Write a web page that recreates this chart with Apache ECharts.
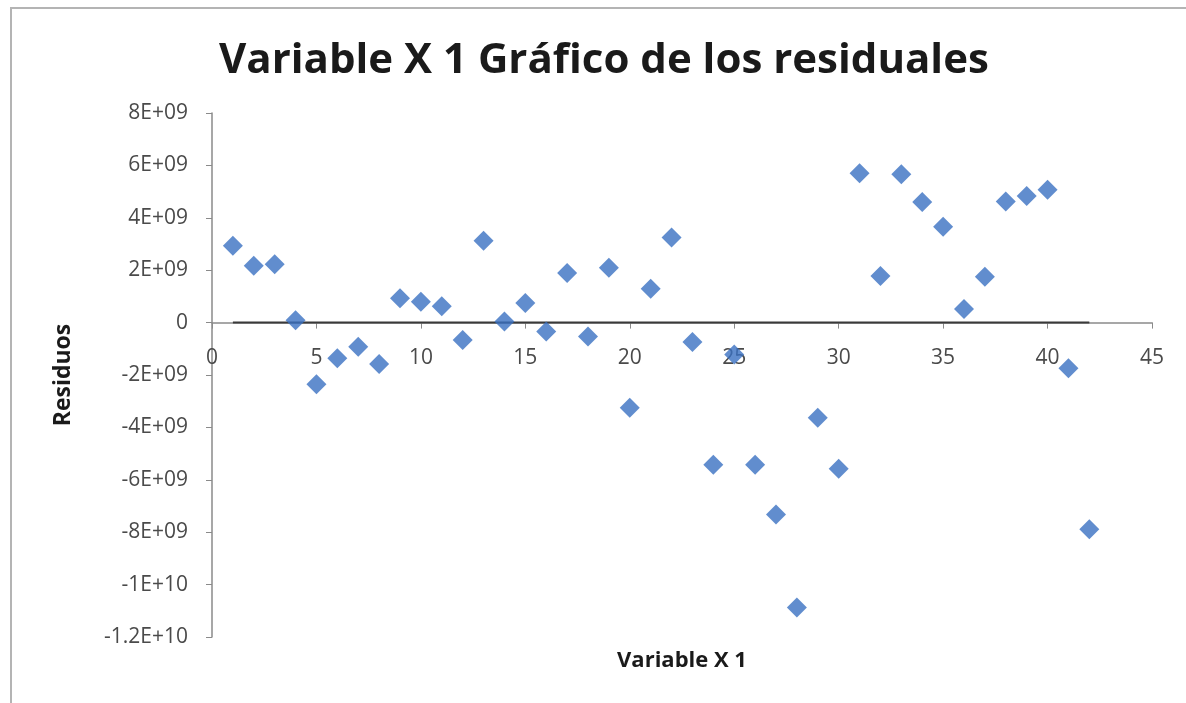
<!DOCTYPE html>
<html>
<head>
<meta charset="utf-8">
<script src="https://cdn.jsdelivr.net/npm/echarts@6/dist/echarts.min.js"></script>
<style>
  html, body { margin: 0; padding: 0; background: #ffffff; }
  #frame { position: absolute; left: 10px; top: 7px; width: 1200px; height: 720px;
           border-left: 2px solid #b4b4b4; border-top: 2px solid #b4b4b4; }
  #chart { position: absolute; left: 0; top: 0; width: 1186px; height: 703px; }
</style>
</head>
<body>
<div id="frame"></div>
<div id="chart"></div>
<script>
const titleText = 'Variable X 1 Gráfico de los residuales';
const xAxisName = 'Variable X 1';
const yAxisName = 'Residuos';
const xValues = [1,2,3,4,5,6,7,8,9,10,11,12,13,14,15,16,17,18,19,20,21,22,23,24,25,26,27,28,29,30,31,32,33,34,35,36,37,38,39,40,41,42];
const residuals = [
  2.93e9, 2.17e9, 2.23e9, 0.09e9, -2.35e9, -1.36e9, -0.92e9, -1.58e9, 0.93e9, 0.80e9,
  0.62e9, -0.66e9, 3.12e9, 0.04e9, 0.75e9, -0.34e9, 1.89e9, -0.53e9, 2.09e9, -3.25e9,
  1.29e9, 3.25e9, -0.74e9, -5.43e9, -1.22e9, -5.43e9, -7.32e9, -10.87e9, -3.63e9, -5.58e9,
  5.70e9, 1.78e9, 5.66e9, 4.60e9, 3.66e9, 0.52e9, 1.75e9, 4.62e9, 4.83e9, 5.07e9,
  -1.74e9, -7.89e9
];
const yMin = -1.2e10, yMax = 8e9, yStep = 2e9;
const xMin = 0, xMax = 45, xStep = 5;

function excelSci(v) {
  if (Math.abs(v) < 1e-6) return '0';
  const sign = v < 0 ? '-' : '';
  const a = Math.abs(v);
  const e = Math.floor(Math.log10(a) + 1e-9);
  let m = a / Math.pow(10, e);
  m = Math.round(m * 10) / 10;
  const ms = (m % 1 === 0) ? String(m) : m.toFixed(1);
  const es = (e < 10 ? '0' : '') + e;
  return sign + ms + 'E+' + es;
}

const points = xValues.map((x, i) => [x, residuals[i]]);
const zeroLine = [[xValues[0], 0], [xValues[xValues.length - 1], 0]];

const GRID_TOP = 113, GRID_BOTTOM = 66, H = 703;
const plotH = H - GRID_TOP - GRID_BOTTOM;
// distance from the zero level up to the grid bottom, derived from the axis range
const zeroOffset = plotH * (0 - yMin) / (yMax - yMin);

const FONT = '"Open Sans", Lato, sans-serif';
const chart = echarts.init(document.getElementById('chart'), null, { renderer: 'canvas' });
chart.setOption({
  backgroundColor: 'transparent',
  animation: false,
  title: {
    text: titleText,
    left: 214,
    top: 35,
    textStyle: { fontFamily: FONT, fontWeight: 'bold', fontSize: 42, color: '#1a1a1a' }
  },
  grid: { left: 212, right: 34, top: GRID_TOP, bottom: GRID_BOTTOM, containLabel: false, outerBoundsMode: 'none' },
  xAxis: {
    type: 'value',
    position: 'bottom',
    offset: -zeroOffset,
    min: xMin, max: xMax, interval: xStep,
    name: xAxisName,
    nameLocation: 'middle',
    nameGap: zeroOffset + 13,
    nameTextStyle: { fontFamily: FONT, fontWeight: 'bold', fontSize: 22, color: '#1a1a1a' },
    axisLine: { onZero: false, lineStyle: { color: '#8a8a8a', width: 1.5 } },
    axisTick: { show: true, length: 6, lineStyle: { color: '#8a8a8a' } },
    axisLabel: { fontFamily: FONT, fontSize: 21, color: '#4a4a4a', margin: 25 },
    splitLine: { show: false }
  },
  yAxis: {
    type: 'value',
    min: yMin, max: yMax, interval: yStep,
    name: yAxisName,
    nameLocation: 'middle',
    nameGap: 137,
    nameRotate: 90,
    nameTextStyle: { fontFamily: FONT, fontWeight: 'bold', fontSize: 23, color: '#1a1a1a' },
    axisLine: { show: true, onZero: false, lineStyle: { color: '#8a8a8a', width: 1.5 } },
    axisTick: { show: true, length: 6, lineStyle: { color: '#8a8a8a' } },
    axisLabel: { fontFamily: FONT, fontSize: 21, color: '#4a4a4a', margin: 24, formatter: excelSci },
    splitLine: { show: false }
  },
  series: [
    {
      type: 'line',
      data: zeroLine,
      symbol: 'none',
      lineStyle: { color: '#3a3a3a', width: 2 },
      z: 1,
      silent: true
    },
    {
      type: 'scatter',
      data: points,
      symbol: 'diamond',
      symbolSize: 20,
      itemStyle: { color: '#3a70c2' },
      z: 3
    }
  ]
});
</script>
</body>
</html>
